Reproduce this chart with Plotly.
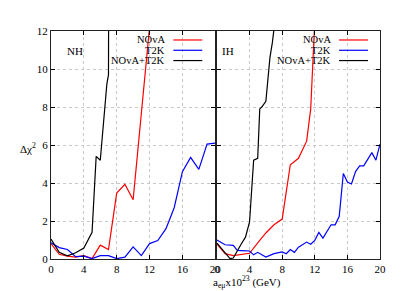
import plotly.graph_objects as go

# ---------------- data ----------------
nh_t2k_x = list(range(0, 21))
nh_t2k_y = [0.85, 0.6, 0.5, 0.12, 0.15, 0.02, 0.18, 0.18, 0.02, 0.1, 0.64,
            0.18, 0.81, 0.97, 1.6, 2.7, 4.6, 5.35, 4.72, 6.05, 6.1]
nh_nova_x = list(range(0, 13))
nh_nova_y = [0.81, 0.25, 0.15, 0.1, 0.18, 0.02, 0.73, 0.5, 3.47, 3.93, 3.12, 7.65, 12.2]
nh_comb_x = [0, 1, 2, 3, 4, 5, 5.5, 6, 6.8, 7, 7.02]
nh_comb_y = [1.05, 0.35, 0.17, 0.33, 0.58, 1.4, 5.4, 5.2, 9.2, 9.7, 14]

ih_t2k_x = [0, 1, 2, 2.5, 3, 4, 4.5, 5, 6, 7, 8, 8.5, 9, 9.5, 10, 11, 11.5, 12,
            12.5, 13, 14, 14.5, 15, 15.5, 16, 16.5, 17, 17.5, 18, 19, 19.5, 20]
ih_t2k_y = [1.0, 0.75, 0.72, 0.45, 0.44, 0.42, 0.22, 0.35, 0.1, 0.28, 0.37, 0.28,
            0.5, 0.35, 0.62, 0.89, 0.78, 0.98, 1.4, 1.1, 1.8, 1.8, 2.25, 4.5,
            4.05, 3.95, 4.6, 4.9, 4.9, 5.6, 5.2, 6.05]
ih_nova_x = [0, 1, 2, 3, 4, 5, 6, 7, 8, 9, 10, 11, 11.5, 12]
ih_nova_y = [0.79, 0.28, 0.18, 0.25, 0.3, 0.85, 1.37, 1.8, 2.1, 4.96, 5.3, 6.2, 7.9, 12.5]
ih_comb_x = [0, 1, 1.6, 2, 2.5, 3, 3.5, 4, 4.5, 5, 5.25, 5.5, 6, 6.5, 6.8, 7.05]
ih_comb_y = [0.84, 0.35, 0.02, 0.05, 0.45, 0.8, 1.15, 1.95, 5.2, 5.3, 7.9, 8.0,
             8.3, 10.6, 11.4, 12.3]

x_ticks = [0, 4, 8, 12, 16, 20]
y_ticks = [0, 2, 4, 6, 8, 10, 12]
series_names = ["NOvA", "T2K", "NOvA+T2K"]
series_colors = ["#ff0000", "#0000ff", "#000000"]
panel_labels = ["NH", "IH"]

# ---------------- figure ----------------
OFF = 8  # page body margin
W, H = 415 - OFF, 291 - OFF
# target pixel positions in the final picture
AX_L, AX_R, AX_T, AX_B = 50.5, 380, 31, 259.3
ML, MR, MT, MB = AX_L - OFF, W - (AX_R - OFF), AX_T - OFF, H - (AX_B - OFF)
FONT = "Liberation Serif, Times New Roman, serif"

fig = go.Figure()

panels = [
    ("x", "y", [(nh_nova_x, nh_nova_y), (nh_t2k_x, nh_t2k_y), (nh_comb_x, nh_comb_y)]),
    ("x2", "y2", [(ih_nova_x, ih_nova_y), (ih_t2k_x, ih_t2k_y), (ih_comb_x, ih_comb_y)]),
]
for xa, ya, series in panels:
    for (xs, ys), name, col in zip(series, series_names, series_colors):
        fig.add_trace(go.Scatter(x=xs, y=ys, mode="lines", name=name,
                                 line=dict(color=col, width=1.2),
                                 xaxis=xa, yaxis=ya, showlegend=False))

axis_common = dict(
    range=[0, 20], tickvals=x_ticks, ticks="inside", ticklen=4, tickcolor="#000",
    showline=True, linecolor="#222", linewidth=1.3, mirror="ticks",
    showgrid=True, gridcolor="#c8c8c8", griddash="dot", gridwidth=1,
    zeroline=False, tickfont=dict(family=FONT, size=11, color="#000"),
)
yaxis_common = dict(
    range=[0, 12], tickvals=y_ticks, ticks="inside", ticklen=4, tickcolor="#000",
    showline=True, linecolor="#222", linewidth=1.3, mirror="ticks",
    showgrid=True, gridcolor="#c8c8c8", griddash="dot", gridwidth=1,
    zeroline=False, tickfont=dict(family=FONT, size=11, color="#000"),
)

pw = W - ML - MR
ph = H - MT - MB
d1 = [0, (215 - AX_L) / pw]
d2 = [(216.7 - AX_L) / pw, 1]

fig.update_layout(
    width=W, height=H,
    margin=dict(l=ML, r=MR, t=MT, b=MB, pad=0),
    paper_bgcolor="white", plot_bgcolor="white",
    font=dict(family=FONT, size=11, color="#000"),
    xaxis=dict(domain=d1, anchor="y", **axis_common),
    yaxis=dict(domain=[0, 1], anchor="x", **yaxis_common),
    xaxis2=dict(domain=d2, anchor="y2", **axis_common),
    yaxis2=dict(domain=[0, 1], anchor="x2", showticklabels=False, **yaxis_common),
    showlegend=False,
)

def px_x(p):
    return (p - AX_L) / pw

def px_y(p):
    return 1 - (p - AX_T) / ph

annotations = []
shapes = []
# panel labels
for lbl, cx in zip(panel_labels, [75, 228]):
    annotations.append(dict(text=lbl, x=px_x(cx), y=px_y(51), xref="paper", yref="paper",
                            showarrow=False, xanchor="center", yanchor="middle",
                            font=dict(family=FONT, size=11)))
# legends (gnuplot style: right-aligned text, sample line on the right)
for text_right, line_x0, line_x1 in [(167, 173, 202), (333, 339, 368)]:
    for i, (name, col) in enumerate(zip(series_names, series_colors)):
        yy = 40 + i * 10.3
        annotations.append(dict(text=name, x=px_x(text_right), y=px_y(yy), xref="paper",
                                yref="paper", showarrow=False, xanchor="right",
                                yanchor="middle", font=dict(family=FONT, size=10.5)))
        shapes.append(dict(type="line", xref="paper", yref="paper",
                           x0=px_x(line_x0), x1=px_x(line_x1), y0=px_y(yy), y1=px_y(yy),
                           line=dict(color=col, width=1.2)))
# axis titles
annotations.append(dict(text="Δχ<sup>2</sup>", x=px_x(27), y=px_y(148), xref="paper",
                        yref="paper", showarrow=False, xanchor="center", yanchor="middle",
                        font=dict(family=FONT, size=11)))
annotations.append(dict(text="a<sub>eμ</sub>x10<sup>23</sup> (GeV)", x=px_x(247), y=px_y(282),
                        xref="paper", yref="paper", showarrow=False, xanchor="center",
                        yanchor="middle", font=dict(family=FONT, size=11)))

fig.update_layout(annotations=annotations, shapes=shapes)

fig.write_html("out.html", config={"displayModeBar": False})
